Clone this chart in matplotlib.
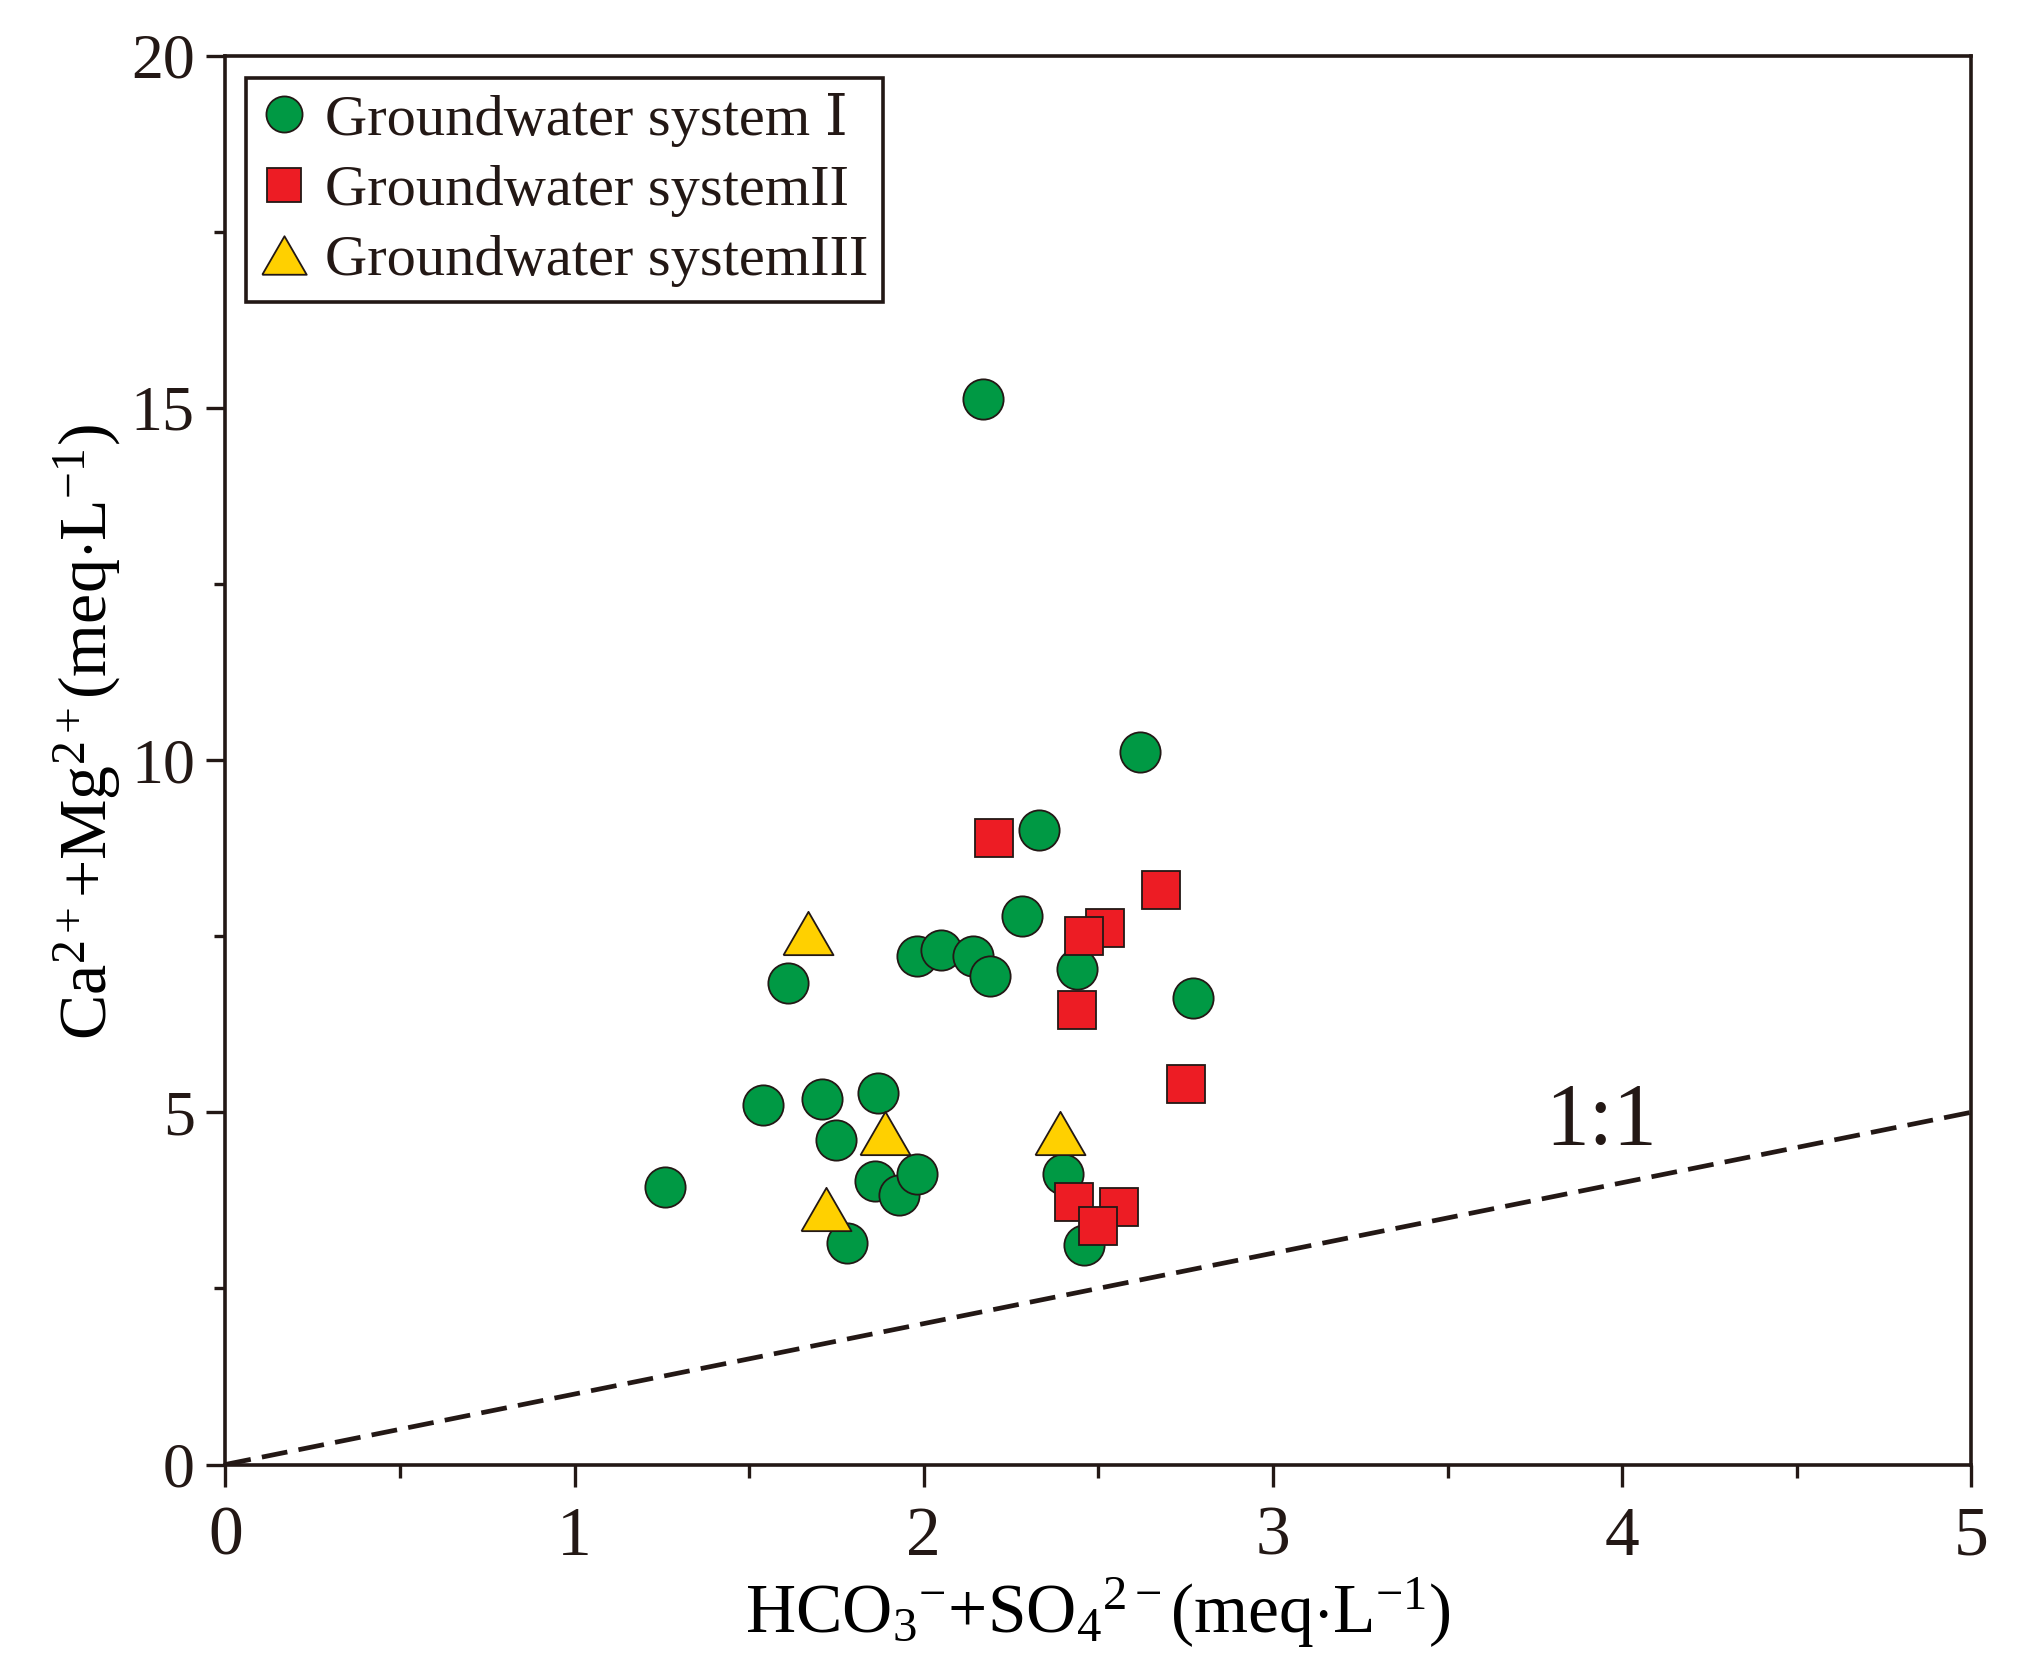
import matplotlib
matplotlib.use("Agg")
import matplotlib.pyplot as plt
from matplotlib.ticker import MultipleLocator
from matplotlib.lines import Line2D

# ---- data ----
sys1_x = [2.17, 2.62, 2.33, 2.28, 1.98, 2.05, 2.14, 2.19, 2.44, 1.61, 2.77,
          1.54, 1.71, 1.87, 1.75, 1.26, 1.86, 1.93, 1.98, 1.78, 2.40, 2.46]
sys1_y = [15.12, 10.12, 9.00, 7.79, 7.22, 7.30, 7.22, 6.93, 7.03, 6.83, 6.62,
          5.11, 5.19, 5.28, 4.60, 3.94, 4.03, 3.83, 4.13, 3.14, 4.12, 3.12]

sys2_x = [2.20, 2.68, 2.52, 2.46, 2.44, 2.75, 2.43, 2.56, 2.50]
sys2_y = [8.89, 8.16, 7.61, 7.50, 6.45, 5.40, 3.73, 3.65, 3.38]

sys3_x = [1.67, 1.89, 2.39, 1.72]
sys3_y = [7.55, 4.70, 4.70, 3.63]

line_x = [0, 5]
line_y = [0, 5]

labels = ["Groundwater system \u2160", "Groundwater systemII", "Groundwater systemIII"]

INK = "#231815"
GREEN = "#009944"
RED = "#ED1C24"
YELLOW = "#FFD000"

plt.rcParams["font.family"] = ["Liberation Serif", "DejaVu Serif", "Noto Sans CJK SC"]
plt.rcParams["mathtext.fontset"] = "custom"
plt.rcParams["mathtext.rm"] = "Liberation Serif"
plt.rcParams["mathtext.it"] = "Liberation Serif:italic"
plt.rcParams["mathtext.bf"] = "Liberation Serif:bold"
plt.rcParams["text.color"] = INK

fig = plt.figure(figsize=(20.19, 16.68), dpi=100)
ax = fig.add_axes([0.1116, 0.122, 0.8648, 0.8447])

# equilateral triangle marker
tri = [(-1, -0.866), (1, -0.866), (0, 0.866), (-1, -0.866)]

ax.plot(line_x, line_y, color=INK, lw=3.4, dashes=(5.5, 2.4), zorder=1)

ax.plot(sys1_x, sys1_y, ls="none", marker="o", ms=29, mfc=GREEN, mec=INK, mew=1.3, zorder=3)
ax.plot(sys2_x, sys2_y, ls="none", marker="s", ms=28, mfc=RED, mec=INK, mew=1.3, zorder=4)
ax.plot(sys3_x, sys3_y, ls="none", marker=tri, ms=36, mfc=YELLOW, mec=INK, mew=1.3, zorder=5)

ax.text(3.94, 4.85, "1:1", fontsize=63, ha="center", va="center", color=INK)

ax.set_xlim(0, 5)
ax.set_ylim(0, 20)
ax.xaxis.set_major_locator(MultipleLocator(1))
ax.xaxis.set_minor_locator(MultipleLocator(0.5))
ax.yaxis.set_major_locator(MultipleLocator(5))
ax.yaxis.set_minor_locator(MultipleLocator(2.5))

for s in ax.spines.values():
    s.set_color(INK)
    s.set_linewidth(2.6)

ax.tick_params(which="both", direction="out", color=INK, width=2.4, top=False, right=False)
ax.tick_params(axis="x", which="major", length=16, pad=14, labelsize=50, labelcolor=INK)
ax.tick_params(axis="x", which="minor", length=9)
ax.tick_params(axis="y", which="major", length=14, pad=8, labelsize=46, labelcolor=INK)
ax.tick_params(axis="y", which="minor", length=8)

ax.set_xlabel(r"HCO$_3$$^{-}$+SO$_4$$^{2-}$(meq$\cdot$L$^{-1}$)", fontsize=50, labelpad=4)
ax.set_ylabel(r"Ca$^{2+}$+Mg$^{2+}$(meq$\cdot$L$^{-1}$)", fontsize=49, labelpad=5)
ax.yaxis.label.set_y(0.52)

handles = [
    Line2D([], [], ls="none", marker="o", ms=26, mfc=GREEN, mec=INK, mew=1.3),
    Line2D([], [], ls="none", marker="s", ms=25, mfc=RED, mec=INK, mew=1.3),
    Line2D([], [], ls="none", marker=tri, ms=32, mfc=YELLOW, mec=INK, mew=1.3),
]
leg = ax.legend(handles, labels, loc="upper left", bbox_to_anchor=(0.012, 0.984),
                fontsize=42, frameon=True, fancybox=False, framealpha=1,
                edgecolor=INK, handlelength=0.8, handletextpad=0.3,
                labelspacing=0.3, borderpad=0.25, borderaxespad=0)
leg.get_frame().set_linewidth(2.6)

fig.savefig("out.png", dpi=100, facecolor="white")
